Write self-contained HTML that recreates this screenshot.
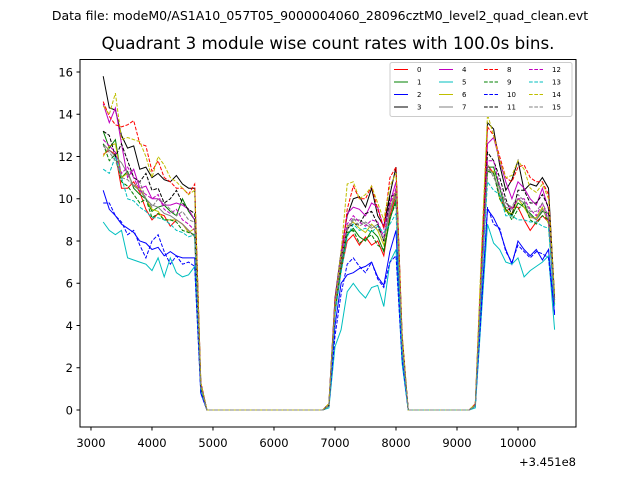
<!DOCTYPE html>
<html><head><meta charset="utf-8"><style>
body{margin:0;background:#fff;}
svg text{font-family:"DejaVu Sans","Liberation Sans",sans-serif;fill:#000;}
</style></head><body>
<svg id="chart" width="640" height="480" xmlns="http://www.w3.org/2000/svg">
<rect width="640" height="480" fill="#fff"/>
<text x="320" y="20" font-size="12.5" text-anchor="middle">Data file: modeM0/AS1A10_057T05_9000004060_28096cztM0_level2_quad_clean.evt</text>
<text x="328" y="49" font-size="16.7" text-anchor="middle">Quadrant 3 module wise count rates with 100.0s bins.</text>
<g id="marks"></g>
<rect x="80" y="59.5" width="496" height="367.5" fill="none" stroke="#000" stroke-width="1"/>
<g id="axes"></g>
<text x="576" y="466" font-size="11.5" text-anchor="end">+3.451e8</text>
<g id="legend"></g>
</svg>
<script>
const xTicks=[3000,4000,5000,6000,7000,8000,9000,10000];
const yTicks=[0,2,4,6,8,10,12,14,16];
const seriesNames=["0","1","2","3","4","5","6","7","8","9","10","11","12","13","14","15"];
const colors=["#ff0000","#008000","#0000ff","#000000","#bf00bf","#00bfbf","#bfbf00","#808080","#ff0000","#008000","#0000ff","#000000","#bf00bf","#00bfbf","#bfbf00","#808080"];
// segment 1: 3200..4700
const seg1=[
[12.1,12.3,12.1,10.5,10.5,10.8,10.3,9.5,9.0,9.3,9.2,8.7,9.0,8.8,8.5,8.2],
[13.2,12.4,12.8,11.0,11.3,10.5,10.2,10.0,9.4,9.6,9.7,9.4,9.2,10.0,9.4,9.0],
[10.4,9.5,9.2,8.8,8.6,8.4,8.0,7.9,7.6,7.7,7.3,7.5,7.3,7.2,7.2,7.2],
[15.8,14.3,14.2,13.0,12.4,12.5,11.4,11.5,11.0,11.2,10.9,10.8,11.1,10.7,10.5,10.5],
[14.5,13.6,14.3,12.6,11.0,11.4,10.5,10.6,10.0,10.0,9.7,9.7,9.8,9.7,9.5,9.0],
[8.9,8.5,8.3,8.5,7.2,7.1,7.0,6.9,6.6,7.2,6.3,7.2,6.5,6.3,6.4,6.8],
[12.0,12.5,12.6,11.0,11.2,10.6,10.5,10.0,9.5,9.4,9.0,9.0,9.0,8.8,8.4,8.6],
[12.6,12.3,12.0,11.7,11.2,10.6,10.4,10.0,9.7,9.6,9.3,9.2,9.0,8.8,8.5,8.2],
[14.6,13.9,13.5,13.4,13.5,13.7,12.6,12.5,11.3,11.8,11.0,10.8,10.5,10.5,10.2,10.7],
[12.6,11.8,12.1,10.8,10.6,10.2,9.8,10.0,9.1,9.3,9.0,9.0,8.9,8.5,8.4,8.3],
[9.8,9.8,9.2,8.9,8.3,8.5,7.8,7.2,8.0,8.3,7.5,6.9,7.3,6.9,7.0,6.8],
[13.2,13.0,12.0,12.6,11.8,11.0,10.8,11.2,10.4,10.5,9.8,10.0,10.4,9.8,9.5,9.3],
[12.8,12.5,12.2,11.2,11.5,11.0,10.4,10.2,10.0,10.2,9.5,9.3,9.5,9.0,8.8,8.5],
[11.4,11.2,12.0,11.0,10.0,9.9,9.6,9.4,9.1,9.1,9.0,8.8,8.5,8.4,8.2,8.3],
[14.4,14.0,15.0,12.8,12.9,12.8,12.7,12.0,11.0,12.0,11.6,11.0,10.8,10.5,10.2,10.4],
[12.5,12.2,11.8,11.0,10.9,10.6,10.8,10.0,9.6,10.0,9.8,9.5,9.2,9.4,9.0,8.9]];
// segment 2: 7000..8000
const seg2=[
[4.6,6.6,8.0,8.3,7.8,8.2,7.8,8.0,7.3,9.2,10.2],
[4.8,6.8,8.3,8.6,8.2,8.0,8.5,8.2,7.5,9.0,10.0],
[4.0,6.0,6.4,6.5,6.7,6.8,7.0,6.3,5.9,7.5,8.5],
[5.3,7.5,9.2,10.0,10.1,9.6,10.5,9.2,8.7,10.2,11.5],
[5.2,7.4,9.3,9.6,9.5,9.2,9.8,9.6,8.6,9.8,10.8],
[3.0,3.8,5.6,6.0,5.6,5.3,5.8,5.9,4.9,7.0,7.6],
[4.9,7.0,8.7,8.9,8.6,8.4,8.8,8.5,7.8,9.5,10.4],
[4.8,7.0,8.5,9.0,9.0,8.8,8.6,8.8,8.0,9.4,10.3],
[5.2,7.0,9.5,10.6,10.0,10.0,10.6,9.5,8.6,11.0,11.5],
[4.7,6.7,8.4,8.5,7.9,8.1,8.3,7.8,7.6,9.1,9.8],
[3.5,5.5,6.9,7.2,6.8,6.5,7.0,6.2,5.8,7.0,7.3],
[5.0,7.2,8.6,8.8,8.8,9.3,9.4,8.8,8.0,10.1,10.2],
[5.0,7.1,8.8,9.2,8.9,8.7,9.0,8.9,8.2,9.7,10.5],
[4.5,6.5,8.2,8.8,8.5,8.6,8.4,8.7,8.4,8.8,9.3],
[5.0,7.5,10.7,10.8,10.0,10.2,10.6,9.8,9.0,10.6,11.2],
[4.9,7.1,8.6,9.1,8.7,8.9,8.7,8.6,8.1,9.6,10.1]];
// segment 3: 9400..10500
const seg3=[
[6.0,11.6,11.2,10.2,9.4,9.6,9.6,9.0,8.5,8.9,9.2,8.9],
[6.0,11.5,11.5,10.5,9.5,9.2,9.8,9.6,9.3,9.0,9.4,9.3],
[5.0,9.5,9.1,8.5,7.6,6.9,8.0,7.6,7.3,7.6,7.1,7.6],
[7.0,13.6,13.3,11.6,10.4,10.9,11.8,10.4,10.7,10.6,11.0,10.5],
[6.8,12.6,12.9,11.8,10.8,10.0,10.8,10.5,10.0,9.7,10.5,9.5],
[4.5,8.8,7.9,7.6,7.0,6.9,7.2,6.3,6.6,6.8,7.0,7.3],
[6.0,11.3,11.3,10.0,9.4,9.3,10.0,9.6,9.1,9.1,9.6,8.8],
[6.0,11.4,11.2,10.2,9.6,9.5,10.0,9.8,9.2,9.0,9.5,9.0],
[7.0,13.4,13.0,12.0,11.0,10.8,11.5,11.6,11.0,10.8,10.8,10.2],
[6.0,11.3,11.2,10.0,9.5,9.0,9.5,9.8,9.0,8.8,9.2,9.0],
[4.8,9.6,8.8,8.6,7.5,7.0,7.8,7.5,7.2,7.5,7.4,7.2],
[6.5,12.2,11.8,11.0,10.0,9.2,10.4,10.4,9.8,9.8,10.2,9.6],
[6.3,11.8,11.8,10.6,9.8,9.5,10.0,10.0,9.5,9.2,9.8,9.0],
[5.8,10.8,10.4,10.2,9.2,9.2,9.0,9.0,8.9,8.9,8.7,8.6],
[7.5,14.0,13.0,11.8,11.0,11.1,11.8,11.4,10.5,10.3,10.7,10.0],
[6.2,11.6,11.0,10.5,9.8,9.6,10.2,9.9,9.4,9.4,9.8,9.2]];
// transition values at 4800, 6900, 8100, 9300, 10600
const edges=[
[1.0,0.2,3.0,0.2,5.0],[1.1,0.2,3.2,0.2,5.2],[0.8,0.2,2.5,0.2,4.5],[1.3,0.3,3.5,0.2,5.3],
[1.2,0.2,3.2,0.2,5.0],[0.9,0.1,2.2,0.1,3.8],[1.0,0.2,3.0,0.2,5.0],[1.0,0.2,3.0,0.2,5.0],
[1.3,0.3,3.6,0.3,5.4],[1.0,0.2,3.0,0.2,5.0],[0.8,0.2,2.4,0.2,4.6],[1.2,0.2,3.4,0.2,5.2],
[1.1,0.2,3.1,0.2,5.1],[1.0,0.2,2.8,0.2,4.9],[1.3,0.3,3.6,0.3,5.5],[1.1,0.2,3.1,0.2,5.1]];
const x0=3200, dt=100;

const X=v=>80+(v-2820)/(10951-2820)*496;
const Y=v=>410-v*21.125;
const NS="http://www.w3.org/2000/svg";
function mk(t,a){const e=document.createElementNS(NS,t);for(const k in a)e.setAttribute(k,a[k]);return e;}

const axes=document.getElementById('axes');
xTicks.forEach(t=>{
 const l=mk('line',{x1:X(t),x2:X(t),y1:427,y2:430.5,stroke:'#000'});
 
 
 axes.appendChild(l);
 const tx=mk('text',{x:X(t),y:447,'font-size':11.5,'text-anchor':'middle'});
 
 
 tx.textContent=t;axes.appendChild(tx);
});
yTicks.forEach(t=>{
 const l=mk('line',{x1:76.5,x2:80,y1:Y(t),y2:Y(t),stroke:'#000'});
 
 
 axes.appendChild(l);
 const tx=mk('text',{x:73,y:Y(t)+4.3,'font-size':11.5,'text-anchor':'end'});
 
 
 tx.textContent=t;axes.appendChild(tx);
});

const marks=document.getElementById('marks');
seriesNames.forEach((n,i)=>{
 const e=edges[i];
 const vals=[].concat(seg1[i],[e[0]],new Array(20).fill(0),[e[1]],seg2[i],[e[2]],new Array(11).fill(0),[e[3]],seg3[i],[e[4]]);
 const pts=vals.map((v,k)=>X(x0+k*dt).toFixed(1)+','+Y(v).toFixed(1)).join(' ');
 const p=mk('polyline',{points:pts,fill:'none',stroke:colors[i],'stroke-width':1});
 if(i>=8)p.setAttribute('stroke-dasharray','3.7,1.6');
 
 
 marks.appendChild(p);
});

const lg=document.getElementById('legend');
const box=mk('rect',{x:390,y:62.5,width:182,height:54,fill:'#fff',stroke:'#ccc',rx:2});


lg.appendChild(box);
const colX=[394,439,484,529];
seriesNames.forEach((n,i)=>{
 const c=Math.floor(i/4),r=i%4;
 const y=69.5+r*12.5;
 const g=mk('g',{});
 
 
 const l=mk('line',{x1:colX[c],x2:colX[c]+14,y1:y,y2:y,stroke:colors[i],'stroke-width':1});
 if(i>=8)l.setAttribute('stroke-dasharray','3.7,1.6');
 g.appendChild(l);
 const t=mk('text',{x:colX[c]+23,y:y+2.5,'font-size':7});
 t.textContent=n;g.appendChild(t);
 lg.appendChild(g);
});
</script>
</body></html>
